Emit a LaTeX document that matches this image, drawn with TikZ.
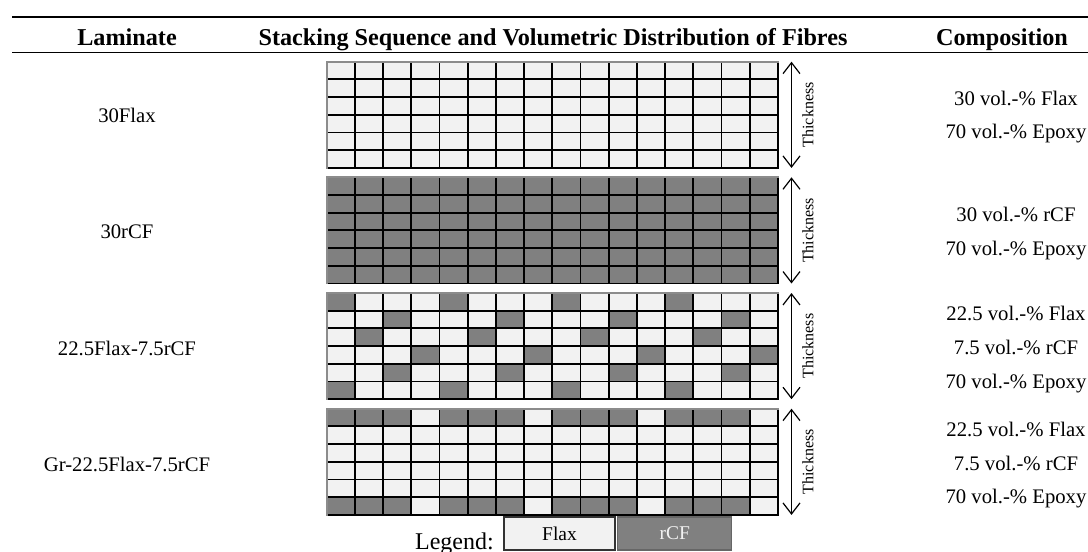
\documentclass[tikz,border=0pt]{standalone}
\usepackage{fontspec}
\setmainfont{Liberation Serif}
\usetikzlibrary{arrows.meta}
\definecolor{flax}{HTML}{F2F2F2}
\definecolor{rcf}{HTML}{808080}
\definecolor{rimgray}{HTML}{8C8C8C}
\tikzset{
  txt/.style={font=\fontsize{20.7}{25}\selectfont, inner sep=0pt, anchor=base},
  hdr/.style={font=\fontsize{24.2}{28}\selectfont\bfseries, inner sep=0pt, anchor=base},
  thk/.style={font=\fontsize{16}{18}\selectfont, rotate=90, inner sep=0pt},
  dimarrow/.style={line width=1.2pt, {Straight Barb[length=11pt,width=17pt]}-{Straight Barb[length=11pt,width=17pt]}},
  gridline/.style={line width=1.9pt, black, line cap=rect},
  rimline/.style={line width=1.9pt, rimgray, line cap=rect},
  toprule/.style={line width=2.6pt},
  midrule/.style={line width=1.6pt},
  legbox/.style={draw, line width=1.1pt, minimum height=33pt, inner sep=0pt, font=\fontsize{19.5}{22}\selectfont},
}
\newcommand{\darkcell}[3]{\fill[rcf] ({326.7+(#2-1)*28.2},{#1+(#3-1)*17.7}) rectangle ++(28.2,17.7);}
\newcommand{\gridbase}[2]{\fill[#2] (326.7,#1) rectangle (777.9,{#1+106.2});}
\newcommand{\gridlines}[1]{%
  \foreach \ii in {1,...,15} {\draw[gridline] ({326.7+\ii*28.2},#1) -- ({326.7+\ii*28.2},{#1+106.2});}
  \foreach \jj in {1,...,5} {\draw[gridline] (326.7,{#1+\jj*17.7}) -- (777.9,{#1+\jj*17.7});}
  \draw[gridline] (777.9,#1) -- (777.9,{#1+106.2}) -- (326.7,{#1+106.2});
  \draw[rimline] (326.7,{#1+106.2}) -- (326.7,#1) -- (777.9,#1);
}
\begin{document}
\begin{tikzpicture}[x=1pt,y=-1pt]
\useasboundingbox (0,0) rectangle (1088,552);
\fill[white] (0,0) rectangle (1088,552);

% rules
\coordinate (tr1) at (12,17);
\coordinate (tr2) at (1088,17);
\draw[toprule] (tr1) -- (tr2);
\coordinate (mr1) at (12,52.5);
\coordinate (mr2) at (1088,52.5);
\draw[midrule] (mr1) -- (mr2);

% headers
\node[hdr] (hlam) at (127,45) {Laminate};
\node[hdr] (hseq) at (553,45) {Stacking Sequence and Volumetric Distribution of Fibres};
\node[hdr] (hcomp) at (1002,45) {Composition};

% grid 1: Flax
\gridbase{61.7}{flax}
\gridlines{61.7}
% grid 2: rCF
\gridbase{177.3}{rcf}
\gridlines{177.3}
% grid 3: hybrid
\gridbase{293.0}{flax}
\foreach \rw/\sc in {1/1,2/3,3/2,4/4,5/3,6/1} {
  \foreach \k in {0,...,3} {
    \pgfmathtruncatemacro\cc{\sc+4*\k}
    \darkcell{293.0}{\cc}{\rw}
  }
}
\gridlines{293.0}
% grid 4: graded
\gridbase{408.7}{flax}
\foreach \rw in {1,6} {
  \foreach \cc in {1,2,3,5,6,7,9,10,11,13,14,15} {
    \darkcell{408.7}{\cc}{\rw}
  }
}
\gridlines{408.7}

% thickness arrows
\foreach \t/\n in {61.7/1,177.3/2,293.0/3,408.7/4} {
  \coordinate (at\n) at (791.5,\t);
  \coordinate (ab\n) at (791.5,{\t+106.2});
  \draw[dimarrow] (at\n) -- (ab\n);
  \node[thk] (thk\n) at (808,{\t+53.1}) {Thickness};
}

% laminate labels
\node[txt] (l1) at (127,122) {30Flax};
\node[txt] (l2) at (127,238) {30rCF};
\node[txt] (l3) at (127,355) {22.5Flax-7.5rCF};
\node[txt] (l4) at (127,471) {Gr-22.5Flax-7.5rCF};

% compositions
\node[txt] (c1a) at (1016,105) {30 vol.-\% Flax};
\node[txt] (c1b) at (1016,138) {70 vol.-\% Epoxy};
\node[txt] (c2a) at (1016,221) {30 vol.-\% rCF};
\node[txt] (c2b) at (1016,255) {70 vol.-\% Epoxy};
\node[txt] (c3a) at (1016,320) {22.5 vol.-\% Flax};
\node[txt] (c3b) at (1016,354) {7.5 vol.-\% rCF};
\node[txt] (c3c) at (1016,388) {70 vol.-\% Epoxy};
\node[txt] (c4a) at (1016,436) {22.5 vol.-\% Flax};
\node[txt] (c4b) at (1016,470) {7.5 vol.-\% rCF};
\node[txt] (c4c) at (1016,503) {70 vol.-\% Epoxy};

% legend
\node[txt, font=\fontsize{24}{28}\selectfont, anchor=base east] (leg) at (494,549) {Legend:};
\node[legbox, fill=flax, draw=black!80, minimum width=111pt] (lgflax) at (559.5,533.5) {Flax};
\node[legbox, fill=rcf, draw=black!60, text=flax, minimum width=114pt] (lgrcf) at (674.7,533.5) {rCF};
\end{tikzpicture}
\end{document}
